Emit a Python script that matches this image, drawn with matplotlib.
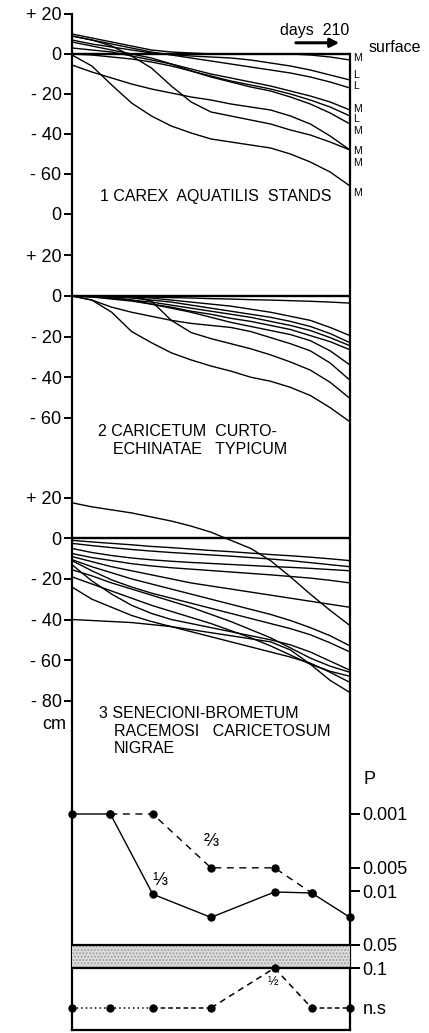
import matplotlib
matplotlib.use("Agg")
import matplotlib.pyplot as plt
from matplotlib.ticker import NullLocator

plt.rcParams['font.family'] = ['Liberation Sans', 'DejaVu Sans']

# sampling days for the water-table curves (cm relative to surface)
days = [0, 15, 30, 45, 60, 75, 90, 105, 120, 135, 150, 165, 180, 195, 210]

# 1 Carex aquatilis stands
carex = [
    [10, 8, 6, 4, 2, 1, 0.5, 0, 0, 0, 0, 0, -0.5, -1.5, -3],
    [7, 5, 3.5, 2, 0.5, -0.3, -1, -1.5, -2, -3, -4.5, -6, -8, -10.5, -13],
    [9, 7, 5, 3, 1, -0.5, -2, -3.5, -5, -6.5, -8, -9.5, -11.5, -14, -17],
    [3, 2, 1, -1, -3, -5, -7.5, -10, -12, -14, -16, -18.5, -21, -24, -28],
    [0, -0.5, -1.5, -2.5, -4, -6, -8.5, -11, -13.5, -15.5, -17.5, -20, -23, -26.5, -31],
    [6, 4, 2, 0, -2, -5, -8.5, -11.5, -14, -16.5, -18.5, -21.5, -25, -29.5, -35],
    [-5.5, -9, -12, -15, -17.5, -19.5, -21.5, -23, -25, -26.5, -28, -31, -35, -41, -48],
    [9, 7, 4, -1, -7, -16, -24, -29, -31, -33, -35, -38, -40.5, -44, -48],
    [-0.5, -6, -15.5, -24.5, -31, -36, -39.5, -42.5, -44, -45.5, -47, -50, -54, -59, -66],
]
carex_tags = ['M', 'L', 'L', 'M', 'L', 'M', 'M', 'M', 'M']
carex_tag_y = [-2, -10.3, -15.8, -27.3, -32.5, -38.5, -48.3, -54.5, -69.5]

# 2 Caricetum curto-echinatae typicum
curto = [
    [0, 0, 0, -0.3, -0.5, -0.8, -1, -1.3, -1.5, -1.8, -2, -2.3, -2.6, -3, -3.5],
    [0, 0, 0, -0.5, -1, -2, -3, -4, -5, -6.5, -8, -10, -12, -15.5, -19.5],
    [0, 0, -0.5, -1, -2, -3, -4.5, -6, -7.5, -9, -10.5, -12.5, -15, -18.5, -23],
    [0, -0.3, -1, -2, -3, -4.5, -6, -7.5, -9, -10.5, -12.5, -14.5, -17, -20.5, -24.5],
    [0, -0.5, -1.5, -2.5, -4, -5.5, -7.5, -9, -11, -12.5, -14.5, -16.5, -19.5, -22.5, -26.5],
    [0, -0.3, -1, -2, -4, -6, -8, -10.5, -13, -15, -17, -19, -22, -27, -34],
    [0, -2, -5.5, -8, -10, -12, -13.5, -14.5, -15.5, -17.5, -20.5, -23.5, -27, -33, -41.5],
    [0, 0, 0, 0, -2.5, -12, -18, -21, -23.5, -26, -29, -32.5, -36.5, -42.5, -50.5],
    [0, -2, -8, -17.5, -23, -28, -31.5, -34.5, -37, -40, -42, -45, -49, -55, -62],
]

# 3 Senecioni-Brometum racemosi caricetosum nigrae
senec = [
    [17.5, 15.5, 14, 12.5, 10.5, 8.5, 6, 3, -1, -5, -11, -19, -27.5, -35.5, -43],
    [-1, -1.8, -2.5, -3.2, -4, -4.6, -5.3, -6, -6.6, -7.3, -8, -8.6, -9.3, -10.1, -11],
    [-2.5, -3.6, -4.6, -5.5, -6.3, -7, -7.6, -8.2, -8.8, -9.5, -10.2, -11, -12, -13, -14],
    [-5, -7, -8.5, -9.7, -10.6, -11.3, -11.9, -12.4, -12.9, -13.4, -13.9, -14.3, -14.8, -15.4, -16],
    [-7.5, -9.5, -11, -12.5, -13.6, -14.5, -15.2, -15.9, -16.6, -17.3, -18, -18.8, -19.6, -20.7, -22],
    [-9, -11.5, -14, -16, -18, -20, -22, -23.5, -25, -26.5, -28, -29.5, -31, -32.5, -34],
    [-10.5, -14, -17, -20, -22.5, -25, -27.5, -30, -32.5, -35, -37.5, -40.5, -44, -48, -53],
    [-11, -16, -20.5, -24, -27, -29.5, -32, -34.5, -37, -39.5, -42, -44.5, -47.5, -51.5, -56],
    [-13, -21, -27.5, -33, -37, -40, -42, -44, -46, -48, -50, -52.5, -56, -60.5, -65],
    [-15.5, -18.5, -22, -25, -28, -31, -34, -37.5, -41, -45, -49, -54, -59, -63, -66],
    [-19, -22.5, -26, -29.5, -33, -36, -39, -42, -45.5, -49, -53, -57.5, -62, -65.5, -68],
    [-24, -30, -34, -38, -41, -43.5, -46, -48.5, -51, -53.5, -56, -58.5, -61.5, -66, -71],
    [-40, -40.5, -41, -41.5, -42.5, -43.5, -45, -46.5, -48, -49.5, -51, -55, -62, -70, -76],
]

# significance (P) of differences between the stand groups
p_days = [0, 29, 61, 105, 153, 181, 210]
NS = 0.33
p_1v3 = [0.001, 0.001, 0.011, 0.022, 0.0103, 0.0106, 0.022]
p_2v3 = [0.001, 0.001, 0.005, 0.005, 0.0106]          # p_days[1:6]
p_1v2 = [NS, NS, NS, NS, 0.1, NS, NS]
p_ticks = [0.001, 0.005, 0.01, 0.05, 0.1, NS]
p_tick_labels = ['0.001', '0.005', '0.01', '0.05', '0.1', 'n.s']

W, H = 429, 1033
fig = plt.figure(figsize=(W / 100, H / 100), dpi=100)


def px_box(x0, y0, x1, y1):
    return [x0 / W, 1 - y1 / H, (x1 - x0) / W, (y1 - y0) / H]


X0, X1 = 72, 350

# outer frame
frame = fig.add_axes(px_box(X0, 14, X1, 1030))
frame.set_xlim(0, 1)
frame.set_ylim(0, 1)
frame.set_xticks([])
frame.set_yticks([])
frame.patch.set_alpha(0)
frame.spines['top'].set_visible(False)
for s in ['left', 'right', 'bottom']:
    frame.spines[s].set_linewidth(1.6)
frame.spines['right'].set_bounds(0, (1030 - 54) / (1030 - 14))


def depth_panel(box, ylim, ticks, labels, curves):
    ax = fig.add_axes(box)
    ax.patch.set_alpha(0)
    for s in ax.spines.values():
        s.set_visible(False)
    ax.set_xlim(0, 210)
    ax.set_ylim(*ylim)
    ax.set_xticks([])
    ax.set_yticks(ticks, labels)
    ax.tick_params(axis='y', length=6, width=1.4, pad=1.5, labelsize=13)
    ax.axhline(0, color='k', lw=1.7)
    for c in curves:
        ax.plot(days, c, color='k', lw=1.0)
    return ax


ax1 = depth_panel(px_box(X0, 14, X1, 214), (-80, 20),
                  [20, 0, -20, -40, -60, -80],
                  ['+ 20', '0', '- 20', '- 40', '- 60', '0'], carex)
ax2 = depth_panel(px_box(X0, 255.4, X1, 458.4), (-80, 20),
                  [20, 0, -20, -40, -60],
                  ['+ 20', '0', '- 20', '- 40', '- 60'], curto)
ax3 = depth_panel(px_box(X0, 497.7, X1, 721), (-90, 20),
                  [20, 0, -20, -40, -60, -80],
                  ['+ 20', '0', '- 20', '- 40', '- 60', '- 80'], senec)

for tag, ty in zip(carex_tags, carex_tag_y):
    ax1.text(212, ty, tag, fontsize=7.5, ha='left', va='center', clip_on=False)

ax1.annotate('', xy=(204, 5.6), xytext=(167, 5.6),
             arrowprops=dict(arrowstyle='-|>', color='k', lw=2.2, mutation_scale=13))
ax1.text(183, 11.5, 'days  210', ha='center', va='center', fontsize=11.5)
ax1.text(224, 3.5, 'surface', ha='left', va='center', fontsize=11.5, clip_on=False)

ax1.text(21, -71.5, '1 CAREX  AQUATILIS  STANDS', fontsize=11.5, va='center')
ax2.text(19.5, -66.8, '2 CARICETUM  CURTO-', fontsize=11.5, va='center')
ax2.text(31, -75.4, 'ECHINATAE   TYPICUM', fontsize=11.5, va='center')
ax3.text(20.5, -86.5, '3 SENECIONI-BROMETUM', fontsize=11.5, va='center', clip_on=False)
ax3.text(31.5, -95.3, 'RACEMOSI   CARICETOSUM', fontsize=11.5, va='center', clip_on=False)
ax3.text(31.5, -103.5, 'NIGRAE', fontsize=11.5, va='center', clip_on=False)
ax3.text(-0.02, -91.5, 'cm', transform=ax3.get_yaxis_transform(),
         ha='right', va='center', fontsize=13)

# P panel
ax4 = fig.add_axes(px_box(X0, 790, X1, 1030))
ax4.patch.set_alpha(0)
for s in ax4.spines.values():
    s.set_visible(False)
ax4.set_yscale('log')
ax4.set_xlim(0, 210)
ax4.set_ylim(0.638, 0.000488)
ax4.set_xticks([])
ax4.yaxis.tick_right()
ax4.set_yticks(p_ticks, p_tick_labels)
ax4.yaxis.set_minor_locator(NullLocator())
ax4.tick_params(axis='y', which='major', right=True, left=False,
                length=7, width=1.4, pad=2, labelsize=13)
ax4.yaxis.get_major_ticks()[-1].tick2line.set_visible(False)

ax4.axhspan(0.05, 0.1, facecolor='#dedede', edgecolor='#a0a0a0', hatch='.....', lw=0)
ax4.axhline(0.05, color='k', lw=1.6)
ax4.axhline(0.1, color='k', lw=1.6)

ax4.plot(p_days, p_1v3, color='k', lw=1.0)
ax4.plot(p_days[1:6], p_2v3, color='k', lw=1.0, ls=(0, (5, 4)))
seg_styles = [(0, (1, 2)), (0, (1, 2)), (0, (3, 2)), (0, (4, 3)), (0, (4, 3)), (0, (3, 2))]
for i, st in enumerate(seg_styles):
    ax4.plot(p_days[i:i + 2], p_1v2[i:i + 2], color='k', lw=1.1, ls=st)

for xs, ys in [(p_days, p_1v3), (p_days[1:6], p_2v3), (p_days, p_1v2)]:
    ax4.plot(xs, ys, 'o', color='k', ms=5, ls='none', clip_on=False, zorder=5)

ax4.text(105.5, 0.0023, '\u2154', fontsize=13, ha='center', va='center')
ax4.text(66.5, 0.0072, '\u2153', fontsize=13, ha='center', va='center')
ax4.text(152, 0.15, '\u00bd', fontsize=9, ha='center', va='center')
ax4.text(1.05, 0.00036, 'P', transform=ax4.get_yaxis_transform(),
         fontsize=13, ha='left', va='center')

fig.savefig('out.png', dpi=100)
